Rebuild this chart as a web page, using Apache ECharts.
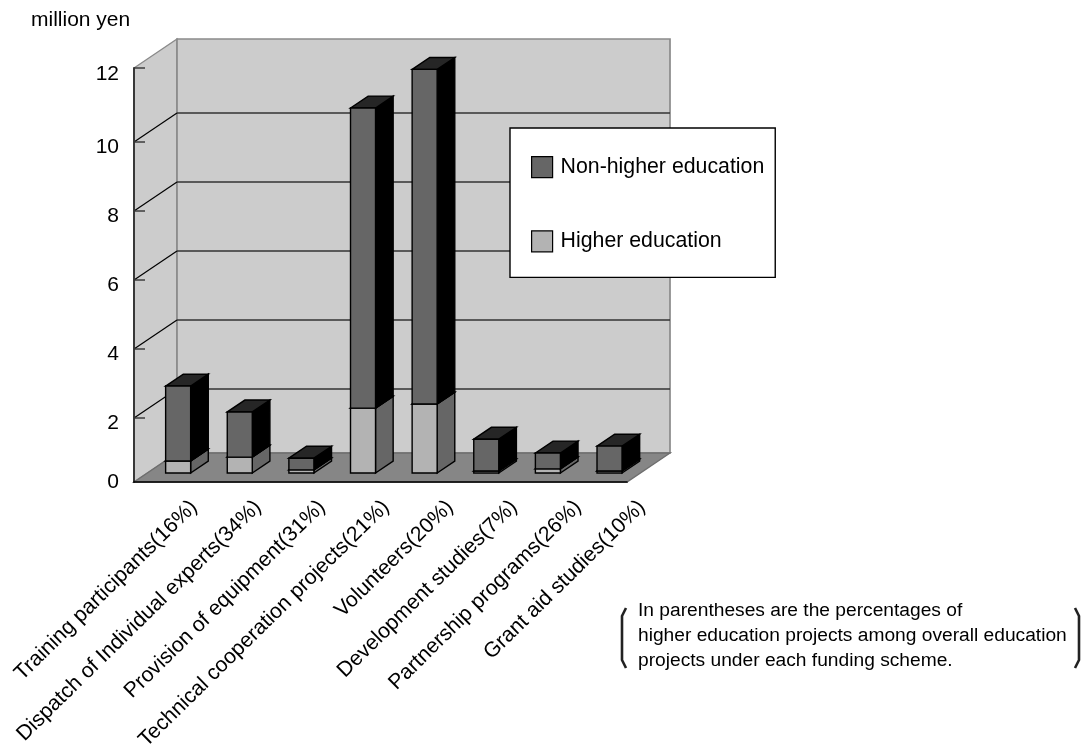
<!DOCTYPE html>
<html>
<head>
<meta charset="utf-8">
<style>html,body{margin:0;padding:0;background:#fff}#chart{width:1082px;height:745px}</style>
<script src="https://cdn.jsdelivr.net/npm/echarts@6/dist/echarts.min.js"></script>
</head>
<body>
<div id="chart"></div>
<script>
// Education cooperation spending by funding scheme, million yen
const categories = [
  'Training participants(16%)', 'Dispatch of Individual experts(34%)',
  'Provision of equipment(31%)', 'Technical cooperation projects(21%)',
  'Volunteers(20%)', 'Development studies(7%)',
  'Partnership programs(26%)', 'Grant aid studies(10%)'
];
const higherEducation = [0.35, 0.46, 0.09, 1.88, 2.0, 0.06, 0.12, 0.06];
const nonHigherEducation = [2.17, 1.31, 0.34, 8.7, 9.7, 0.92, 0.46, 0.72];
const wallRuleLevels = [1.855, 3.855, 5.855, 7.855, 9.855];
const axisTop = 12;
const axisTicks = 2;

// Oblique projection of the chart box: full depth in pixels, and where bars sit in it
const DEPTH = [43, -29];
const BAR_NEAR = 0.31, BAR_FAR = 0.72, BAR_WIDTH = 0.406;
const FONT = '"Liberation Sans", Arial, sans-serif';

const shift = (p, d) => [p[0] + DEPTH[0] * d, p[1] + DEPTH[1] * d];
const poly = (points, fill, stroke, lineWidth) => ({
  type: 'polygon', shape: { points },
  style: { fill, stroke, lineWidth }
});
const line = (a, b, stroke, lineWidth) => ({
  type: 'line',
  shape: { x1: a[0], y1: a[1], x2: b[0], y2: b[1] },
  style: { stroke, lineWidth, fill: null }
});

// Floor, the two walls and the top axis tick
function renderChamber(params, api) {
  const n = categories.length;
  const bl = api.coord([-0.5, 0]), br = api.coord([n - 0.5, 0]);
  bl[0] = params.coordSys.x; br[0] = params.coordSys.x + params.coordSys.width;
  const tl = [bl[0], api.coord([0, axisTop])[1]];
  const tr = [br[0], tl[1]];
  return {
    type: 'group',
    children: [
      poly([bl, tl, shift(tl, 1), shift(bl, 1)], '#cccccc', '#8a8a8a', 1.4),
      poly([shift(bl, 1), shift(tl, 1), shift(tr, 1), shift(br, 1)], '#cccccc', '#8a8a8a', 1.7),
      poly([bl, shift(bl, 1), shift(br, 1), br], '#868686', '#6e6e6e', 1.4),
      line(tl, [tl[0] + 11, tl[1]], '#333333', 1.4)
    ]
  };
}

// Horizontal rule across the back wall, its return on the side wall, and the axis tick
function renderRule(params, api) {
  const x0 = params.coordSys.x, x1 = x0 + params.coordSys.width;
  const y = api.coord([0, api.value(0)])[1];
  const a = [x0, y], b = [x1, y];
  return {
    type: 'group',
    children: [
      line(shift(a, 1), shift(b, 1), '#333333', 1.4),
      line(a, shift(a, 1), '#000000', 1.2),
      line(a, [x0 + 11, y], '#333333', 1.4)
    ]
  };
}

// One stacked block drawn as side, top and front faces
function boxRenderer(frontFill, sideFill, topFill) {
  return function (params, api) {
    const cat = api.value(0);
    const half = api.size([1, 0])[0] * BAR_WIDTH / 2;
    const lo = api.coord([cat, api.value(1)]);
    const hi = api.coord([cat, api.value(2)]);
    const at = (p, dx, d) => shift([p[0] + dx, p[1]], d);
    const loL = at(lo, -half, BAR_NEAR), loR = at(lo, half, BAR_NEAR);
    const hiL = at(hi, -half, BAR_NEAR), hiR = at(hi, half, BAR_NEAR);
    const backLoR = at(lo, half, BAR_FAR), backHiR = at(hi, half, BAR_FAR), backHiL = at(hi, -half, BAR_FAR);
    return {
      type: 'group',
      children: [
        poly([loR, hiR, backHiR, backLoR], sideFill, '#000', 1.4),
        poly([hiL, backHiL, backHiR, hiR], topFill, '#000', 1.4),
        poly([loL, hiL, hiR, loR], frontFill, '#000', 1.4)
      ]
    };
  };
}

const higherRows = higherEducation.map((v, i) => [i, 0, v]);
const nonHigherRows = nonHigherEducation.map((v, i) => [i, higherEducation[i], higherEducation[i] + v]);

// Tick numbers hang a little below their ticks, the end ones less so
const tickText = { fontSize: 21, color: '#000', fontFamily: FONT };
function tickLabel(v) {
  if (v === 0) return '{base|0}';
  return v === axisTop ? '{high|' + v + '}' : '{mid|' + v + '}';
}

const chart = echarts.init(document.getElementById('chart'));
chart.setOption({
  animation: false,
  backgroundColor: '#fff',
  textStyle: { fontFamily: FONT },
  grid: [
    { left: 134, top: 68, width: 493, height: 414, outerBoundsMode: 'none' },
    // carries only the slanted scheme names, which fan out further than the bars
    { left: 162, top: 68, width: 512, height: 414, outerBoundsMode: 'none' }
  ],
  xAxis: [
    {
      type: 'category', gridIndex: 0, data: categories, z: 10,
      axisLine: { lineStyle: { color: '#000', width: 1.7 } },
      axisTick: { inside: true, length: 9, lineStyle: { color: '#222', width: 1.4 } },
      axisLabel: { show: false }, splitLine: { show: false }
    },
    {
      type: 'category', gridIndex: 1, data: categories,
      axisLine: { show: false }, axisTick: { show: false }, splitLine: { show: false },
      axisLabel: { interval: 0, rotate: 44.5, margin: 22, color: '#000', fontSize: 21.2, fontFamily: FONT, hideOverlap: false }
    }
  ],
  yAxis: [
    {
      type: 'value', gridIndex: 0, min: 0, max: axisTop, interval: axisTicks, z: 10,
      axisLine: { show: true, lineStyle: { color: '#333', width: 1.9 } },
      axisTick: { show: false }, splitLine: { show: false },
      axisLabel: {
        margin: 15, formatter: tickLabel,
        rich: {
          base: tickText,
          mid: Object.assign({ padding: [20, 0, 0, 0] }, tickText),
          high: Object.assign({ padding: [12, 0, 0, 0] }, tickText)
        }
      }
    },
    { type: 'value', gridIndex: 1, min: 0, max: axisTop, show: false }
  ],
  legend: {
    left: 510, top: 128, orient: 'vertical', selectedMode: false,
    backgroundColor: '#fff', borderColor: '#000', borderWidth: 1.4,
    padding: [28, 11, 25, 21], itemGap: 52, itemWidth: 21, itemHeight: 21,
    textStyle: { color: '#000', fontSize: 21.3, fontFamily: FONT, padding: [2, 0, 0, 3] },
    data: [
      { name: 'Non-higher education', icon: 'rect', itemStyle: { color: '#666666', borderColor: '#000', borderWidth: 1.2 } },
      { name: 'Higher education', icon: 'rect', itemStyle: { color: '#b3b3b3', borderColor: '#000', borderWidth: 1.2 } }
    ]
  },
  series: [
    { type: 'custom', name: 'chamber', silent: true, xAxisIndex: 0, yAxisIndex: 0, z: 1, clip: false,
      data: [[0]], encode: { x: 0, y: 0 }, renderItem: renderChamber },
    { type: 'custom', name: 'rules', silent: true, xAxisIndex: 0, yAxisIndex: 0, z: 2, clip: false,
      data: wallRuleLevels.map(v => [v]), encode: { y: 0 }, renderItem: renderRule },
    { type: 'custom', name: 'Higher education', xAxisIndex: 0, yAxisIndex: 0, z: 3, clip: false,
      itemStyle: { color: '#b3b3b3' }, data: higherRows, encode: { x: 0, y: [1, 2] },
      renderItem: boxRenderer('#b3b3b3', '#666666', '#666666') },
    { type: 'custom', name: 'Non-higher education', xAxisIndex: 0, yAxisIndex: 0, z: 4, clip: false,
      itemStyle: { color: '#666666' }, data: nonHigherRows, encode: { x: 0, y: [1, 2] },
      renderItem: boxRenderer('#666666', '#000000', '#262626') }
  ],
  graphic: [
    { type: 'text', left: 31, top: 10, style: { text: 'million yen', fill: '#000', font: '21px ' + FONT } },
    { type: 'text', left: 638, top: 601, style: { text: 'In parentheses are the percentages of', fill: '#000', font: '19.2px ' + FONT } },
    { type: 'text', left: 638, top: 626, style: { text: 'higher education projects among overall education', fill: '#000', font: '19.2px ' + FONT } },
    { type: 'text', left: 638, top: 651, style: { text: 'projects under each funding scheme.', fill: '#000', font: '19.2px ' + FONT } },
    { type: 'polyline', shape: { points: [[626, 608], [622, 616], [622, 660], [626, 668]] }, style: { stroke: '#222', lineWidth: 2.6, fill: null } },
    { type: 'polyline', shape: { points: [[1075, 608], [1079, 616], [1079, 660], [1075, 668]] }, style: { stroke: '#222', lineWidth: 2.6, fill: null } }
  ]
});
</script>
</body>
</html>
